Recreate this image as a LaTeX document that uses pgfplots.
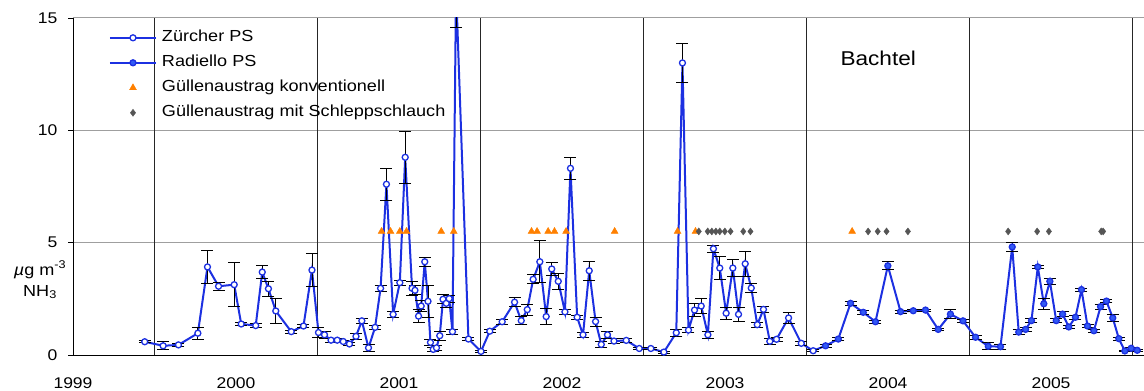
\documentclass[border=0pt]{standalone}
\usepackage{pgfplots}
\usepackage{pgfplotstable}
\pgfplotsset{compat=1.18}
\usepackage{fontspec}
\setmainfont{Liberation Sans}[FakeStretch=1.13]
\definecolor{zblue}{RGB}{28,48,225}
\definecolor{rfill}{RGB}{50,90,245}
\definecolor{gorange}{RGB}{255,128,0}
\definecolor{dgray}{RGB}{85,85,85}

\pgfplotstableread{
x y e
1999.940 0.59 0.05
2000.053 0.41 0.18
2000.147 0.45 0.06
2000.266 0.97 0.26
2000.325 3.92 0.73
2000.393 3.06 0.18
2000.489 3.13 0.97
2000.532 1.38 0.06
2000.621 1.31 0.08
2000.661 3.69 0.28
2000.699 2.95 0.33
2000.744 1.96 0.57
2000.839 1.04 0.06
2000.914 1.29 0.08
2000.966 3.78 0.74
2001.006 1.00 0.22
2001.043 0.90 0.15
2001.083 0.66 0.10
2001.121 0.66 0.08
2001.158 0.60 0.06
2001.196 0.49 0.06
2001.236 0.83 0.12
2001.272 1.52 0.10
2001.313 0.32 0.15
2001.353 1.23 0.10
2001.387 2.97 0.12
2001.423 7.60 0.71
2001.464 1.81 0.15
2001.505 3.22 0.10
2001.538 8.80 1.17
2001.580 2.97 0.30
2001.598 2.88 0.20
2001.620 1.73 0.30
2001.636 2.18 0.25
2001.658 4.15 0.20
2001.678 2.39 0.70
2001.693 0.56 0.15
2001.710 0.25 0.08
2001.730 0.32 0.10
2001.750 0.86 0.20
2001.770 2.48 0.20
2001.790 2.30 0.20
2001.808 2.51 0.15
2001.828 1.04 0.12
2001.850 16.30 1.70
2001.926 0.71 0.08
2002.003 0.16 0.05
2002.057 1.06 0.07
2002.133 1.48 0.12
2002.209 2.35 0.20
2002.250 1.53 0.17
2002.287 2.02 0.25
2002.323 3.37 0.20
2002.364 4.15 0.94
2002.403 1.71 0.35
2002.437 3.83 0.30
2002.477 3.28 0.35
2002.518 1.92 0.12
2002.552 8.31 0.49
2002.593 1.68 0.10
2002.629 0.90 0.12
2002.667 3.75 0.41
2002.706 1.49 0.20
2002.741 0.47 0.12
2002.779 0.90 0.15
2002.819 0.62 0.10
2002.894 0.65 0.08
2002.974 0.29 0.06
2003.045 0.29 0.06
2003.125 0.13 0.05
2003.201 0.99 0.15
2003.239 13.00 0.88
2003.276 1.11 0.12
2003.313 2.00 0.30
2003.354 2.18 0.33
2003.395 0.90 0.15
2003.429 4.73 0.16
2003.468 3.87 0.52
2003.507 1.86 0.27
2003.548 3.87 0.39
2003.583 1.81 0.33
2003.624 4.06 0.54
2003.661 2.98 0.20
2003.698 1.35 0.12
2003.736 2.03 0.15
2003.775 0.61 0.15
2003.816 0.70 0.10
2003.890 1.65 0.24
2003.968 0.52 0.08
2004.041 0.19 0.05
}\zuerich

\pgfplotstableread{
x y e
2004.117 0.41 0.05
2004.195 0.71 0.06
2004.270 2.30 0.08
2004.348 1.90 0.10
2004.423 1.48 0.07
2004.499 3.97 0.18
2004.577 1.93 0.06
2004.655 1.97 0.05
2004.730 2.00 0.05
2004.808 1.14 0.05
2004.883 1.82 0.20
2004.960 1.52 0.08
2005.037 0.79 0.10
2005.115 0.39 0.15
2005.190 0.37 0.12
2005.262 4.81 0.18
2005.302 1.02 0.10
2005.344 1.14 0.08
2005.380 1.53 0.10
2005.419 3.92 0.08
2005.456 2.28 0.24
2005.493 3.28 0.15
2005.532 1.53 0.10
2005.571 1.82 0.10
2005.609 1.25 0.08
2005.650 1.68 0.08
2005.687 2.91 0.06
2005.724 1.29 0.06
2005.763 1.08 0.06
2005.804 2.15 0.10
2005.840 2.40 0.08
2005.879 1.65 0.15
2005.916 0.73 0.06
2005.953 0.18 0.04
2005.992 0.30 0.05
2006.029 0.21 0.05
}\radiello

\pgfplotstableread{
x y
2001.393 5.5
2001.448 5.5
2001.505 5.5
2001.546 5.5
2001.759 5.5
2001.836 5.5
2002.313 5.5
2002.347 5.5
2002.415 5.5
2002.454 5.5
2002.525 5.5
2002.823 5.5
2003.209 5.5
2003.319 5.5
2004.280 5.5
}\konv

\pgfplotstableread{
x y
2003.339 5.5
2003.394 5.5
2003.419 5.5
2003.444 5.5
2003.468 5.5
2003.499 5.5
2003.534 5.5
2003.612 5.5
2003.656 5.5
2004.378 5.5
2004.437 5.5
2004.491 5.5
2004.622 5.5
2005.237 5.5
2005.415 5.5
2005.487 5.5
2005.808 5.5
2005.820 5.5
}\schlepp

\begin{document}
\begin{tikzpicture}
\begin{axis}[
  scale only axis,
  width=1071pt, height=337pt,
  xmin=1999.5, xmax=2006.071,
  ymin=0, ymax=15,
  axis x line*=bottom, axis y line*=left,
  axis line style={black, line width=0.9pt},
  xtick={1999.5,2000.5,2001.5,2002.5,2003.5,2004.5,2005.5},
  xticklabels={1999,2000,2001,2002,2003,2004,2005},
  xtick style={draw=none},
  xticklabel style={font=\fontsize{15.5}{18}\selectfont, yshift=-14pt},
  ytick={0,5,10,15},
  yticklabel style={font=\fontsize{15.5}{18}\selectfont, xshift=-7pt},
  ytick style={black, line width=0.8pt},
  tick align=outside,
  major tick length=5pt,
  ymajorgrids=true,
  major grid style={gray!75, line width=1pt},
  extra x ticks={2000,2001,2002,2003,2004,2005,2006},
  extra x tick labels={},
  extra x tick style={grid=major, major grid style={black!85, line width=0.7pt}, major tick length=0pt},
  /pgf/number format/assume math mode=true,
  legend style={draw=none, fill=none, at={(0.0336,0.965)}, anchor=north west,
    inner sep=0pt, outer sep=0pt, column sep=5pt, row sep=9pt,
    font=\fontsize{16}{18}\selectfont,
    nodes={text height=12pt, text depth=4pt, inner sep=0pt}},
  legend cell align=left,
  legend image code/.code={\draw[mark repeat=2,mark phase=2,#1] plot coordinates {(0pt,0pt) (23pt,0pt) (46pt,0pt)};},
]
\addplot[zblue, line width=2pt, forget plot] coordinates {(2004.041,0.19) (2004.117,0.41)};
\addplot[zblue, line width=2pt, mark=*, mark size=3pt,
  mark options={solid, fill=white, draw=zblue, line width=1.3pt},
  error bars/.cd, y dir=both, y explicit,
  error bar style={black, line width=0.8pt},
  error mark options={rotate=90, mark size=6pt, black, line width=0.8pt}]
  table[x=x, y=y, y error=e] {\zuerich};
\addlegendentry{Zürcher PS}
\addplot[zblue, line width=2pt, mark=*, mark size=3pt,
  mark options={solid, fill=rfill, draw=zblue, line width=1.3pt},
  error bars/.cd, y dir=both, y explicit,
  error bar style={black, line width=0.8pt},
  error mark options={rotate=90, mark size=6pt, black, line width=0.8pt}]
  table[x=x, y=y, y error=e] {\radiello};
\addlegendentry{Radiello PS}
\addplot[only marks, mark=triangle*, mark size=4pt, color=gorange, mark options={fill=gorange, draw=gorange}]
  table[x=x, y=y] {\konv};
\addlegendentry{Güllenaustrag konventionell}
\addplot[only marks, mark=diamond*, mark size=3.5pt, color=dgray, mark options={fill=dgray, draw=dgray}]
  table[x=x, y=y] {\schlepp};
\addlegendentry{Güllenaustrag mit Schleppschlauch}
\node[font=\fontsize{20}{22}\selectfont] at (axis cs:2004.44,13.2) {Bachtel};
\end{axis}
\node[align=center, font=\fontsize{16}{21}\selectfont] at (-33pt,75pt) {\textit{µ}g m\textsuperscript{-3}\\NH\textsubscript{3}};
\pgfresetboundingbox
\path (-73pt,-36pt) rectangle (1071pt,355pt);
\end{tikzpicture}
\end{document}
